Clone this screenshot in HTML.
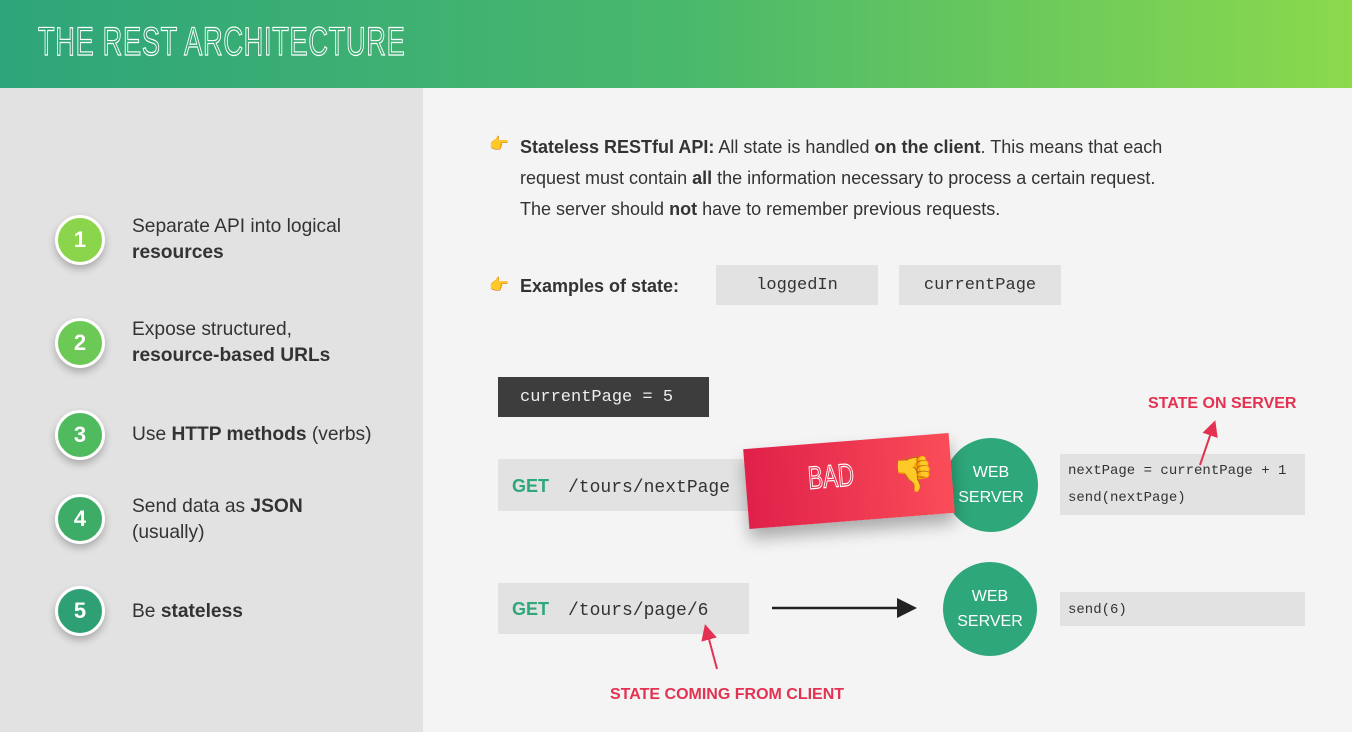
<!DOCTYPE html>
<html><head><meta charset="utf-8"><style>
*{margin:0;padding:0;box-sizing:border-box}
body{width:1352px;height:732px;position:relative;overflow:hidden;background:#f4f4f4;font-family:"Liberation Sans",sans-serif;color:#333}
.a{position:absolute}
.hdr{left:0;top:0;width:1352px;height:88px;background:linear-gradient(90deg,#2ea57a,#49b86c 50%,#8bd94c)}
.title{left:38px;top:20px;font-family:"Liberation Sans",sans-serif;font-size:40px;color:transparent;-webkit-text-stroke:1.2px #fff;letter-spacing:1px;transform:scaleX(0.68);transform-origin:left;white-space:nowrap}
.left{left:0;top:88px;width:423px;height:644px;background:#e2e2e2}
.c{width:50px;height:50px;border-radius:50%;border:3px solid #fff;color:#fff;font-weight:bold;font-size:22px;text-align:center;line-height:44px;box-shadow:0 4px 8px rgba(0,0,0,.25)}
.lt{left:132px;font-size:19.2px;line-height:26px;color:#333;white-space:nowrap}
.rt{font-size:18px;color:#333;white-space:nowrap}
.code{background:#e2e2e2;font-family:"Liberation Mono",monospace;color:#333;white-space:nowrap}
.srv{width:94px;height:94px;border-radius:50%;background:#2ea77a;color:#fff;font-size:16px;text-align:center;line-height:25px;padding-top:22px}
.red{color:#e33251;font-weight:bold;font-size:16px;white-space:nowrap}
.hand{color:#f3b321;font-size:16px}
</style></head><body>
<div class="a hdr"></div>
<div class="a title">THE REST ARCHITECTURE</div>
<div class="a left"></div>

<div class="a c" style="left:55px;top:215px;background:#8bd54c">1</div>
<div class="a c" style="left:55px;top:318px;background:#6dc955">2</div>
<div class="a c" style="left:55px;top:410px;background:#4fbb5e">3</div>
<div class="a c" style="left:55px;top:494px;background:#3dac66">4</div>
<div class="a c" style="left:55px;top:586px;background:#2ea073">5</div>
<div class="a lt" style="top:214px">Separate API into logical<br><b>resources</b></div>
<div class="a lt" style="top:317px">Expose structured,<br><b>resource-based URLs</b></div>
<div class="a lt" style="top:422px">Use <b>HTTP methods</b> (verbs)</div>
<div class="a lt" style="top:494px">Send data as <b>JSON</b><br>(usually)</div>
<div class="a lt" style="top:599px">Be <b>stateless</b></div>

<div class="a hand" style="left:489px;top:134px">👉</div>
<div class="a rt" style="left:520px;top:132px;line-height:31px"><b>Stateless RESTful API:</b> All state is handled <b>on the client</b>. This means that each<br>request must contain <b>all</b> the information necessary to process a certain request.<br>The server should <b>not</b> have to remember previous requests.</div>
<div class="a hand" style="left:489px;top:275px">👉</div>
<div class="a rt" style="left:520px;top:276px"><b>Examples of state:</b></div>
<div class="a code" style="left:716px;top:265px;width:162px;height:40px;line-height:42px;text-align:center;font-size:17px">loggedIn</div>
<div class="a code" style="left:899px;top:265px;width:162px;height:40px;line-height:42px;text-align:center;font-size:17px">currentPage</div>

<div class="a" style="left:498px;top:377px;width:211px;height:40px;background:#3d3d3d;color:#eee;font-family:'Liberation Mono',monospace;font-size:17px;line-height:42px;padding-left:22px">currentPage = 5</div>

<div class="a code" style="left:498px;top:459px;width:260px;height:52px;line-height:54px;padding-left:14px;font-size:18px"><b style="color:#2ea77a;font-family:'Liberation Sans',sans-serif;display:inline-block;width:56px">GET</b>/tours/nextPage</div>
<div class="a srv" style="left:944px;top:438px">WEB<br>SERVER</div>
<div class="a" style="left:746px;top:441px;width:206px;height:80px;background:linear-gradient(90deg,#e0204a,#fa4d58);transform:rotate(-4.5deg);box-shadow:0 10px 16px rgba(0,0,0,.3)"></div>
<div class="a" style="left:808px;top:460px;font-size:32px;color:transparent;-webkit-text-stroke:1.2px #fff;transform:rotate(-4.5deg) scaleX(0.7);transform-origin:left">BAD</div>
<div class="a" style="left:893px;top:455px;font-size:34px;color:#f3b321;transform:rotate(-4.5deg)">👎</div>
<div class="a code" style="left:1060px;top:454px;width:245px;height:61px;font-size:14px;line-height:27px;padding:4px 0 0 8px">nextPage = currentPage + 1<br>send(nextPage)</div>
<div class="a red" style="left:1148px;top:395px">STATE ON SERVER</div>

<div class="a code" style="left:498px;top:583px;width:251px;height:51px;line-height:53px;padding-left:14px;font-size:18px"><b style="color:#2ea77a;font-family:'Liberation Sans',sans-serif;display:inline-block;width:56px">GET</b>/tours/page/6</div>
<div class="a srv" style="left:943px;top:562px">WEB<br>SERVER</div>
<div class="a code" style="left:1060px;top:592px;width:245px;height:34px;font-size:14px;line-height:36px;padding-left:8px">send(6)</div>
<div class="a red" style="left:610px;top:686px">STATE COMING FROM CLIENT</div>

<svg class="a" style="left:0;top:0" width="1352" height="732">
<defs><marker id="m" markerWidth="8" markerHeight="8" refX="6" refY="4" orient="auto"><path d="M0,0 L8,4 L0,8z" fill="#e33251"/></marker>
<marker id="k" markerWidth="8" markerHeight="8" refX="6" refY="4" orient="auto"><path d="M0,0 L8,4 L0,8z" fill="#222"/></marker></defs>
<line x1="1200" y1="465" x2="1214" y2="424" stroke="#e33251" stroke-width="2" marker-end="url(#m)"/>
<line x1="717" y1="669" x2="706" y2="628" stroke="#e33251" stroke-width="2" marker-end="url(#m)"/>
<line x1="772" y1="608" x2="912" y2="608" stroke="#222" stroke-width="2.5" marker-end="url(#k)"/>
</svg>
</body></html>
